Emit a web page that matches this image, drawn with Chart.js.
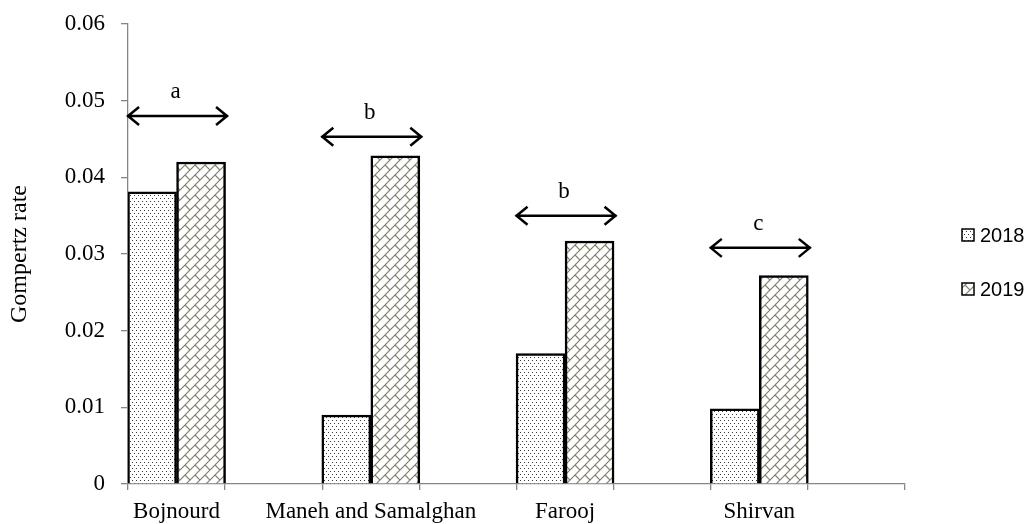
<!DOCTYPE html>
<html>
<head>
<meta charset="utf-8">
<script src="https://cdn.jsdelivr.net/npm/chart.js@4.4.1/dist/chart.umd.min.js"></script>
<style>
  html, body { margin: 0; padding: 0; background: #fff; }
</style>
</head>
<body>
<canvas id="gompChart" width="1031" height="524"></canvas>
<script>
const sites = ['Bojnourd', 'Maneh and Samalghan', 'Farooj', 'Shirvan'];
const years = ['2018', '2019'];
const rate2018 = [0.0381, 0.0090, 0.0170, 0.0098];
const rate2019 = [0.0420, 0.0428, 0.0317, 0.0272];
const groupLetters = ['a', 'b', 'b', 'c'];
const arrowLevel = [0.0480, 0.0453, 0.0350, 0.0308];
const yTicks = [0, 0.01, 0.02, 0.03, 0.04, 0.05, 0.06];

const canvas = document.getElementById('gompChart');
const ctx = canvas.getContext('2d');

// stipple fill for 2018
function dotFill() {
    const c = document.createElement('canvas');
    c.width = 4; c.height = 6;
    const g = c.getContext('2d');
    g.fillStyle = '#fff';
    g.fillRect(0, 0, 4, 6);
    g.fillStyle = '#3a3a3a';
    g.fillRect(0, 0, 1, 1);
    g.fillRect(2, 3, 1, 1);
    return ctx.createPattern(c, 'repeat');
}

// diagonal brick fill for 2019
function brickFill() {
    const s = 10;
    const c = document.createElement('canvas');
    c.width = s; c.height = s;
    const g = c.getContext('2d');
    g.fillStyle = '#fff';
    g.fillRect(0, 0, s, s);
    g.strokeStyle = '#827f6a';
    g.lineWidth = 1.2;
    g.beginPath();
    g.moveTo(-1, s + 1); g.lineTo(s + 1, -1);
    g.moveTo(-1, 1); g.lineTo(1, -1);
    g.moveTo(s - 1, s + 1); g.lineTo(s + 1, s - 1);
    g.moveTo(s / 2, s / 2); g.lineTo(s, s);
    g.stroke();
    return ctx.createPattern(c, 'repeat');
}

const fills = [dotFill(), brickFill()];

// tick marks between groups, labels at group centres
const xTickPos = [];
for (let i = 0; i < sites.length; i++) {
    xTickPos.push(i - 0.25, i, i + 0.25);
}
xTickPos.push(sites.length - 0.25);

const arrowPlugin = {
    id: 'groupArrows',
    afterDatasetsDraw(chart) {
        const c = chart.ctx;
        const x = chart.scales.x, y = chart.scales.y;
        c.save();
        c.strokeStyle = '#000';
        c.fillStyle = '#000';
        c.lineWidth = 2.5;
        c.font = '23px "Liberation Serif"';
        c.textAlign = 'center';
        c.textBaseline = 'alphabetic';
        arrowLevel.forEach((lv, i) => {
            const yy = y.getPixelForValue(lv);
            const x0 = x.getPixelForValue(i - 0.255);
            const x1 = x.getPixelForValue(i + 0.265);
            c.beginPath();
            c.moveTo(x0, yy); c.lineTo(x1, yy);
            c.moveTo(x0 + 12, yy - 9); c.lineTo(x0 + 1, yy); c.lineTo(x0 + 12, yy + 9);
            c.moveTo(x1 - 12, yy - 9); c.lineTo(x1 - 1, yy); c.lineTo(x1 - 12, yy + 9);
            c.stroke();
            c.fillText(groupLetters[i], (x0 + x1) / 2 - 2, yy - 18);
        });
        c.restore();
    }
};

const sideLegend = {
    id: 'sideLegend',
    afterDraw(chart) {
        const c = chart.ctx;
        c.save();
        c.font = '20px "Liberation Sans"';
        c.textBaseline = 'middle';
        c.textAlign = 'left';
        chart.data.datasets.forEach((ds, i) => {
            const cy = 235 + i * 54;
            c.fillStyle = ds.backgroundColor;
            c.fillRect(962, cy - 6, 12, 12);
            c.strokeStyle = '#000';
            c.lineWidth = 1.5;
            c.strokeRect(962, cy - 6, 12, 12);
            c.fillStyle = '#000';
            c.fillText(ds.label, 980, cy + 1);
        });
        c.restore();
    }
};

const gompChart = new Chart(ctx, {
    type: 'bar',
    data: {
        datasets: [{
            label: years[0],
            data: rate2018.map((v, i) => ({ x: i, y: v })),
            backgroundColor: fills[0],
            borderColor: '#000',
            borderWidth: 2.5
        }, {
            label: years[1],
            data: rate2019.map((v, i) => ({ x: i, y: v })),
            backgroundColor: fills[1],
            borderColor: '#000',
            borderWidth: 2.5
        }]
    },
    options: {
        responsive: false,
        animation: false,
        layout: { padding: { top: 24, right: 126, left: 0, bottom: 0 } },
        datasets: { bar: { barThickness: 49 } },
        plugins: {
            legend: { display: false },
            tooltip: { enabled: false }
        },
        scales: {
            x: {
                type: 'linear',
                offset: false,
                min: -0.25,
                max: sites.length - 0.25,
                afterBuildTicks: (s) => { s.ticks = xTickPos.map(v => ({ value: v })); },
                afterFit: (s) => { s.height = 40; s.paddingLeft = 0; s.paddingRight = 0; },
                grid: {
                    drawOnChartArea: false,
                    offset: false,
                    tickLength: 6,
                    lineWidth: 1.3,
                    tickColor: (c) => (c.tick && Number.isInteger(c.tick.value)) ? 'rgba(0,0,0,0)' : '#868686'
                },
                border: { color: '#868686', width: 1.3 },
                ticks: {
                    autoSkip: false,
                    maxRotation: 0,
                    minRotation: 0,
                    padding: 8,
                    color: '#000',
                    font: { family: 'Liberation Serif', size: 23 },
                    callback: (v) => Number.isInteger(v) ? sites[v] : ''
                }
            },
            y: {
                min: 0,
                max: 0.06,
                afterBuildTicks: (s) => { s.ticks = yTicks.map(v => ({ value: v })); },
                afterFit: (s) => { s.width = 128; s.paddingTop = 0; s.paddingBottom = 0; },
                grid: { drawOnChartArea: false, tickLength: 7, tickColor: '#868686', lineWidth: 1.3 },
                border: { color: '#868686', width: 1.3 },
                ticks: {
                    padding: 16,
                    color: '#000',
                    font: { family: 'Liberation Serif', size: 23 },
                    callback: (v) => v === 0 ? '0' : v.toFixed(2)
                },
                title: {
                    display: true,
                    text: 'Gompertz rate',
                    color: '#000',
                    font: { family: 'Liberation Serif', size: 24 },
                    padding: { top: 5, bottom: 0 }
                }
            }
        }
    },
    plugins: [arrowPlugin, sideLegend]
});
</script>
</body>
</html>
